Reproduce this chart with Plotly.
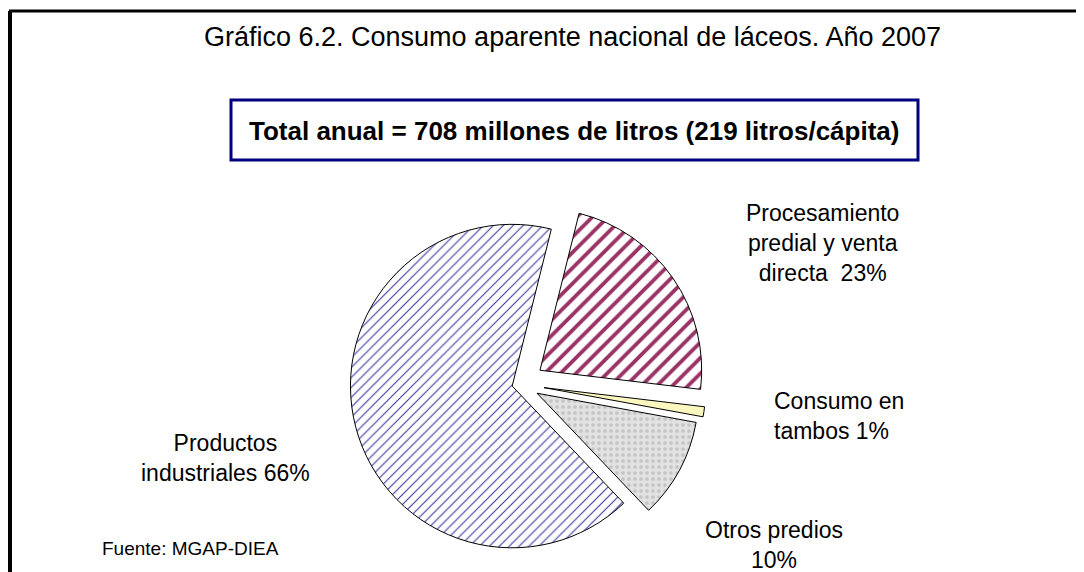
import plotly.graph_objects as go

# Datos del gráfico
categorias = ['Procesamiento predial y venta directa', 'Consumo en tambos', 'Otros predios', 'Productos industriales']
porcentajes = [23, 1, 10, 66]
etiquetas = ['Procesamiento<br>predial y venta<br>directa  23%', 'Consumo en<br>tambos 1%', 'Otros predios<br>10%', 'Productos<br>industriales 66%']

titulo = 'Gráfico 6.2. Consumo aparente nacional de láceos. Año 2007'
recuadro = 'Total anual = 708 millones de litros (219 litros/cápita)'
fuente = 'Fuente: MGAP-DIEA'

# la pagina agrega 8px de margen al body, se compensa
OFF = 8
W, H = 1084 - OFF, 572 - OFF
fuente_txt = 'Liberation Sans, Arial, sans-serif'

def px(x):
    return (x - OFF) / W

def py(y):
    return 1 - (y - OFF) / H

# centro y medio lado del dominio de la torta (pixeles de pantalla)
cx, cy, hw = 520, 384, 186

fig = go.Figure(go.Pie(
    labels=categorias, values=porcentajes,
    sort=False, direction='clockwise', rotation=14,
    pull=[0.15, 0.15, 0.12, 0.05],
    textinfo='none', hoverinfo='label+percent',
    marker=dict(
        colors=['white', '#fbf7bf', '#dcdcdc', 'white'],
        line=dict(color='black', width=1),
        pattern=dict(shape=['/', '', '.', '/'],
                     fgcolor=['#993366', '#fbf7bf', '#c4c4c4', '#3a3aa0'],
                     bgcolor=['white', '#fbf7bf', '#e2e2e2', 'white'],
                     size=[11, 8, 6, 7], solidity=[0.35, 0.2, 0.3, 0.16]),
    ),
    domain=dict(x=[px(cx - hw), px(cx + hw)], y=[py(cy + hw), py(cy - hw)]),
    showlegend=False,
))

anots = [
    dict(x=px(822), y=py(243), text=etiquetas[0], xanchor='center', yanchor='middle', align='center'),
    dict(x=px(772), y=py(416), text=etiquetas[1], xanchor='left', yanchor='middle', align='left'),
    dict(x=px(774), y=py(545), text=etiquetas[2], xanchor='center', yanchor='middle', align='center'),
    dict(x=px(225), y=py(458), text=etiquetas[3], xanchor='center', yanchor='middle', align='center'),
]
for a in anots:
    a.update(xref='paper', yref='paper', showarrow=False,
             font=dict(family=fuente_txt, size=23, color='black'))
fig.update_layout(annotations=anots)

fig.add_annotation(x=px(572), y=py(37), xref='paper', yref='paper', text=titulo, showarrow=False,
                   xanchor='center', yanchor='middle', font=dict(family=fuente_txt, size=27, color='black'))
fig.add_annotation(x=px(574), y=py(131), xref='paper', yref='paper', text='<b>' + recuadro + '</b>',
                   showarrow=False, xanchor='center', yanchor='middle',
                   font=dict(family=fuente_txt, size=26, color='black'))
fig.add_annotation(x=px(100), y=py(548), xref='paper', yref='paper', text=fuente, showarrow=False,
                   xanchor='left', yanchor='middle', font=dict(family=fuente_txt, size=19, color='black'))

# recuadro del total
fig.add_shape(type='rect', xref='paper', yref='paper', x0=px(231), x1=px(918), y0=py(160), y1=py(100),
              line=dict(color='#000080', width=3), fillcolor='white', layer='below')
# marco del grafico (izquierda y arriba)
fig.add_shape(type='line', xref='paper', yref='paper', x0=px(10), x1=px(10), y0=py(11), y1=0,
              line=dict(color='black', width=4))
fig.add_shape(type='line', xref='paper', yref='paper', x0=px(9), x1=1, y0=py(11), y1=py(11),
              line=dict(color='black', width=3))

fig.update_layout(width=W, height=H, margin=dict(l=0, r=0, t=0, b=0),
                  paper_bgcolor='white', plot_bgcolor='white')

fig.write_html("out.html")
